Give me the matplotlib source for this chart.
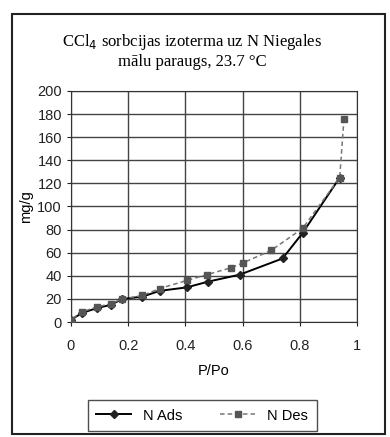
import matplotlib.pyplot as plt
from matplotlib.patches import Rectangle

# P/Po and sorbed amount (mg/g)
ads_x = [0.0, 0.04, 0.09, 0.14, 0.18, 0.25, 0.31, 0.405, 0.48, 0.59, 0.74, 0.81, 0.94]
ads_y = [2, 8, 12, 15, 20, 22, 27, 30, 35, 41, 55, 77, 125]
des_x = [0.955, 0.94, 0.81, 0.70, 0.60, 0.56, 0.475, 0.405, 0.31, 0.25, 0.18, 0.14, 0.09, 0.04, 0.0]
des_y = [176, 125, 81, 62, 51, 47, 41, 36, 29, 23, 20, 16, 13, 9, 2]

title_lines = ["CCl$_4$ sorbcijas izoterma uz N Niegales", "mālu paraugs, 23.7 °C"]
x_ticks = [0, 0.2, 0.4, 0.6, 0.8, 1]
y_ticks = list(range(0, 201, 20))

plt.rcParams["font.family"] = ["Liberation Sans", "DejaVu Sans"]

fig = plt.figure(figsize=(3.9, 4.37), dpi=100)
ax = fig.add_axes([0.182, 0.263, 0.733, 0.529])

ax.plot(ads_x, ads_y, color="black", lw=1.4, marker="D", ms=3.8,
        mfc="#222222", mec="#222222", label="N Ads", zorder=3)
ax.plot(des_x, des_y, color="#777777", lw=1.1, ls=(0, (3, 2)), marker="s", ms=3.8,
        mfc="#555555", mec="#555555", label="N Des", zorder=3)

ax.set_xlim(0, 1)
ax.set_ylim(0, 200)
ax.set_xticks(x_ticks)
ax.set_xticklabels([f"{t:g}" for t in x_ticks])
ax.set_yticks(y_ticks)
ax.grid(True, color="#444444", lw=1.0)
ax.set_axisbelow(True)
for s in ax.spines.values():
    s.set_color("#333333")
ax.tick_params(direction="out", length=3, labelsize=10.5, colors="#222222")
ax.tick_params(axis="x", pad=9)
ax.set_xlabel("P/Po", fontsize=10.5, labelpad=8)
ax.set_ylabel("mg/g", fontsize=10.5, labelpad=3)

fig.text(0.492, 0.903, title_lines[0], ha="center", va="center",
         fontsize=12, family=["Liberation Serif", "DejaVu Serif"])
fig.text(0.492, 0.857, title_lines[1], ha="center", va="center",
         fontsize=12, family=["Liberation Serif", "DejaVu Serif"])

leg = ax.legend(loc="center", bbox_to_anchor=(0.518, 0.049), bbox_transform=fig.transFigure,
                ncol=2, frameon=True, fancybox=False, edgecolor="#222222",
                fontsize=10.5, handlelength=2.4, columnspacing=2.6, borderpad=0.6)
leg.get_frame().set_linewidth(1.0)

fig.patches.append(Rectangle((0.031, 0.008), 0.955, 0.96, transform=fig.transFigure,
                             fill=False, edgecolor="#222222", lw=1.5))

fig.savefig("out.png", dpi=100)
